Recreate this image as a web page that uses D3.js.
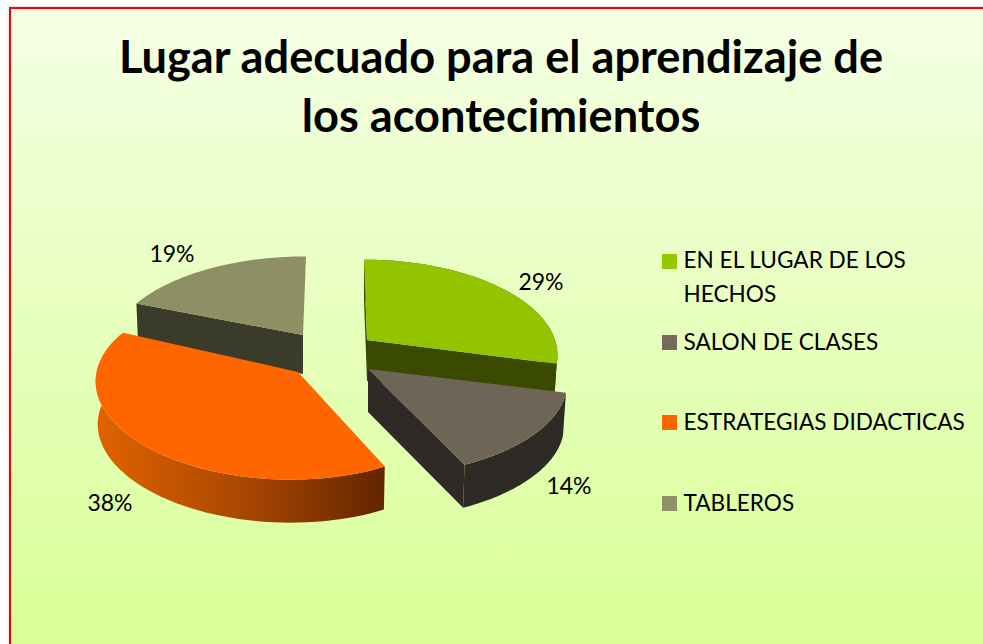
<!DOCTYPE html>
<html><head><meta charset="utf-8">
<script src="https://cdn.jsdelivr.net/npm/d3@7"></script>
<style>html,body{margin:0;padding:0;background:#fff;overflow:hidden}svg{display:block}text{font-family:Lato,sans-serif;fill:#000}</style>
</head><body><div id="chart"></div>
<script>
const categories = ["EN EL LUGAR DE LOS HECHOS","SALON DE CLASES","ESTRATEGIAS DIDACTICAS","TABLEROS"];
const values = [29,14,38,19];
const legendLines = [["EN EL LUGAR DE LOS","HECHOS"],["SALON DE CLASES"],["ESTRATEGIAS DIDACTICAS"],["TABLEROS"]];
const titleLines = ["Lugar adecuado para el aprendizaje de","los acontecimientos"];

const topColors = ["#92c400","#6f6557","#ff6600","#8f8f66"];
const wallColors = ["#3a4a00","#2e2a25","#8a3b00","#3a3b29"];
const legendColors = ["#96c800","#766a5c","#ff6600","#919168"];
const apexX = [367,368,298,303];
const apexY = [340,369,372,335];
const radiusX = [188,197,184,190];
const radiusY = [92,92,92,90];
const skewX = [-3,0,0,3];
const shearY = [0,0,5,0];
const perspX = [0,0,0.08,0];
const depths = [41,43,43,39];
const bottomScale = [0.985,0.985,0.99,0.99];
const startWall = [true,false,false,true];
const endWall = [true,true,false,false];
const rimWall = [true,true,true,false];
const labelX = [541,569,110,172];
const labelY = [290,494,511,262];
const legendSwatchY = [254,335,415,496];
const legendTextY = [[268,302],[350],[430],[511]];

const W=983,H=644, persp=0.145;
const svg=d3.select("#chart").append("svg").attr("width",W).attr("height",H);
const defs=svg.append("defs");
const bg=defs.append("linearGradient").attr("id","bg").attr("gradientUnits","userSpaceOnUse").attr("x1",0).attr("y1",8).attr("x2",0).attr("y2",644);
bg.append("stop").attr("offset","0%").attr("stop-color","#f5ffe4");
bg.append("stop").attr("offset","100%").attr("stop-color","#d9ff96");
const og=defs.append("linearGradient").attr("id","rim").attr("gradientUnits","userSpaceOnUse").attr("x1",97).attr("y1",0).attr("x2",386).attr("y2",0);
og.append("stop").attr("offset","0%").attr("stop-color","#e06300");
og.append("stop").attr("offset","45%").attr("stop-color","#b04a00");
og.append("stop").attr("offset","100%").attr("stop-color","#622600");
const blur=defs.append("filter").attr("id","sh").attr("x","-5%").attr("y","-5%").attr("width","110%").attr("height","110%");
blur.append("feGaussianBlur").attr("stdDeviation",1.5);

svg.append("rect").attr("x",9).attr("y",7).attr("width",W+20).attr("height",H+20).attr("fill","#999").attr("opacity",.6).attr("filter","url(#sh)");
svg.append("rect").attr("x",10).attr("y",8).attr("width",W+20).attr("height",H+20).attr("fill","url(#bg)").attr("stroke","#ff0000").attr("stroke-width",2);

svg.append("g").selectAll("text").data(titleLines).join("text")
  .attr("x",501).attr("y",(d,i)=>[73,132][i]).attr("text-anchor","middle")
  .attr("font-size",45.2).attr("font-weight",700).text(d=>d);

const arcs=d3.pie().sort(null).value(d=>d).startAngle(0).endAngle(2*Math.PI)(values);
const line=d3.line();
function proj(i,a,r,low){
  const u=Math.sin(a)*r, v=Math.cos(a)*r, s=1+persp*v+perspX[i]*u;
  const f=low?bottomScale[i]:1;
  return [apexX[i]+f*(radiusX[i]*u/s+skewX[i]*v), apexY[i]+(-radiusY[i]*v+shearY[i]*u)/s+(low?depths[i]:0)];
}
function arcPts(i,low){
  const d=arcs[i], n=60;
  return d3.range(n+1).map(k=>proj(i,d.startAngle+(d.endAngle-d.startAngle)*k/n,1,low));
}
const pie=svg.append("g");
[0,3,1,2].forEach(i=>{
  const g=pie.append("g");
  const fill=i===2?"url(#rim)":wallColors[i];
  const top=arcPts(i,false), low=arcPts(i,true);
  const c0=proj(i,0,0,false), c1=proj(i,0,0,true);
  if(startWall[i]) g.append("path").attr("d",line([c0,top[0],low[0],c1])+"Z").attr("fill",fill);
  if(endWall[i]) g.append("path").attr("d",line([c0,top[top.length-1],low[low.length-1],c1])+"Z").attr("fill",fill);
  if(rimWall[i]) g.append("path").attr("d",line(top.concat(low.slice().reverse()))+"Z").attr("fill",fill);
  g.append("path").attr("d",line([c0].concat(top))+"Z").attr("fill",topColors[i]);
});

svg.append("g").selectAll("text").data(arcs).join("text")
  .attr("x",(d,i)=>labelX[i]).attr("y",(d,i)=>labelY[i]).attr("text-anchor","middle")
  .attr("font-size",23).text(d=>d.value+"%");

const lg=svg.append("g").selectAll("g").data(categories).join("g");
lg.append("rect").attr("x",662).attr("y",(d,i)=>legendSwatchY[i]).attr("width",15).attr("height",15).attr("fill",(d,i)=>legendColors[i]);
lg.each(function(d,i){
  d3.select(this).selectAll("text").data(legendLines[i]).join("text")
    .attr("x",683.5).attr("y",(t,j)=>legendTextY[i][j]).attr("font-size",22.6).text(t=>t);
});
</script></body></html>
